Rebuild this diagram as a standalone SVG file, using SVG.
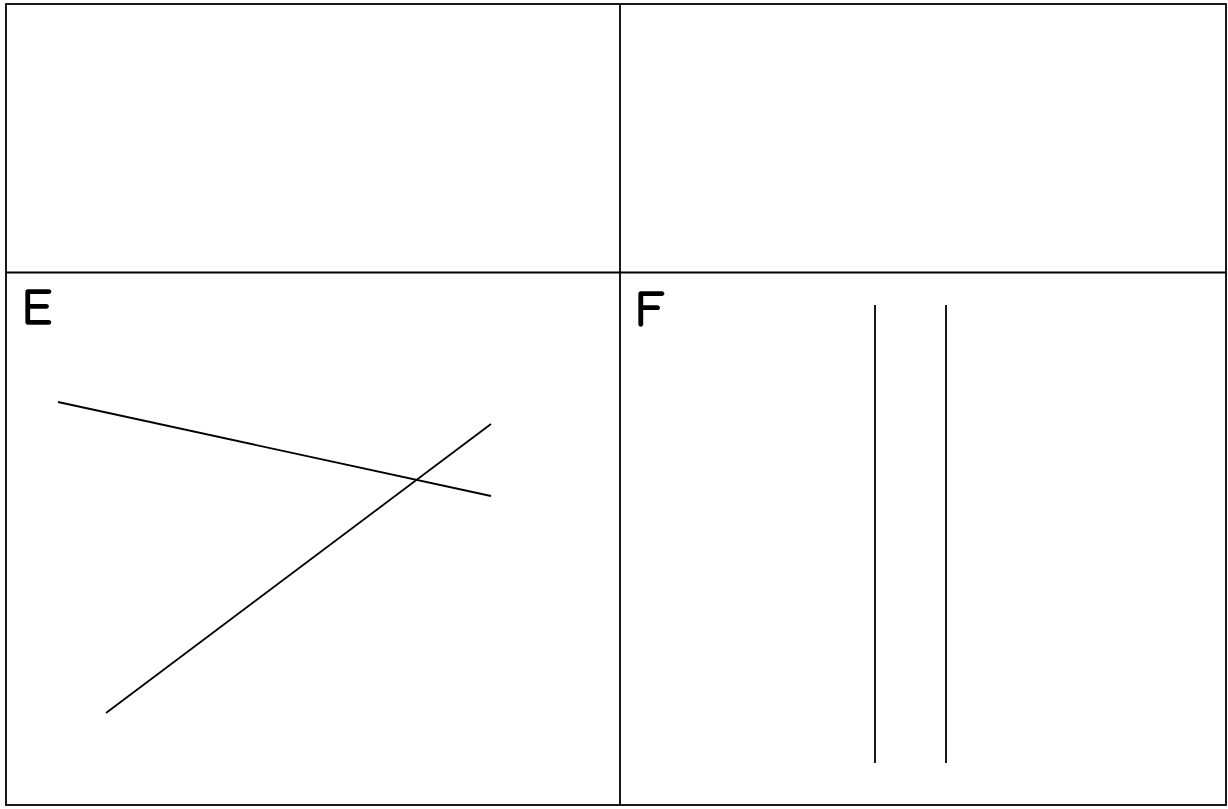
<svg xmlns="http://www.w3.org/2000/svg" width="1228" height="809" viewBox="0 0 1228 809">
<style>
.grid{stroke:#000;stroke-width:1.8;fill:none}
.ln{stroke:#000;stroke-width:1.8;fill:none}
.lbl{font-family:"Comic Sans MS","Comic Neue","Liberation Sans",sans-serif;font-size:50px;fill:#000;stroke:#000;stroke-width:1.6}
</style>
<rect width="1228" height="809" fill="#fff"/>
<g id="table">
<rect class="grid" x="6" y="4" width="1220" height="801" stroke-width="2.4"/>
<line class="grid" x1="620" y1="4" x2="620" y2="805"/>
<line class="grid" x1="6" y1="272.5" x2="1226" y2="272.5"/>
</g>
<g id="cellE">
<text class="lbl" x="22" y="324">E</text>
<line class="ln" x1="58" y1="402" x2="491" y2="496"/>
<line class="ln" x1="106" y1="713" x2="491" y2="424"/>
</g>
<g id="cellF">
<text class="lbl" x="635" y="326">F</text>
<line class="ln" x1="875" y1="305" x2="875" y2="763"/>
<line class="ln" x1="946" y1="305" x2="946" y2="763"/>
</g>
</svg>
